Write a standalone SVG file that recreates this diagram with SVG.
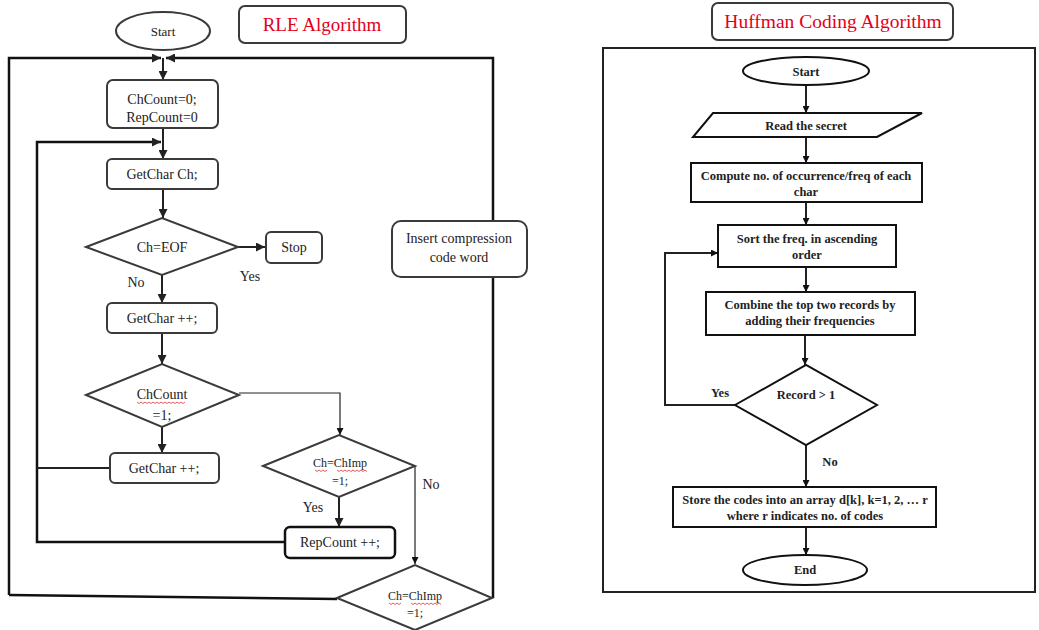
<svg xmlns="http://www.w3.org/2000/svg" width="1039" height="630" viewBox="0 0 1039 630">
  <defs>
    <marker id="arr" viewBox="0 0 10 10" refX="10" refY="5" markerWidth="9" markerHeight="9" markerUnits="userSpaceOnUse" orient="auto">
      <path d="M0,0 L10,5 L0,10 z" fill="#222"/>
    </marker>
    <marker id="arrS" viewBox="0 0 10 10" refX="10" refY="5" markerWidth="7" markerHeight="7" markerUnits="userSpaceOnUse" orient="auto">
      <path d="M0,0 L10,5 L0,10 z" fill="#111"/>
    </marker>
    <style>
      .rl { font-family: "Liberation Serif", "Times New Roman", "DejaVu Serif", serif; font-size: 14px; fill: #222; text-anchor: middle; }
      .rs { font-family: "Liberation Serif", "Times New Roman", "DejaVu Serif", serif; font-size: 12px; fill: #222; text-anchor: middle; }
      .hf { font-family: "Liberation Serif", "Times New Roman", "DejaVu Serif", serif; font-size: 12.5px; font-weight: bold; fill: #222; text-anchor: middle; }
      .title { font-family: "Liberation Serif", "Times New Roman", "DejaVu Serif", serif; font-size: 19px; fill: #e3001b; text-anchor: middle; }
      .box { fill: #fff; stroke: #3a3a3a; stroke-width: 2; }
      .hbox { fill: #fff; stroke: #111; stroke-width: 2; }
      .ln { fill: none; stroke: #222; stroke-width: 2; }
      .thin { fill: none; stroke: #222; stroke-width: 1.2; }
      .outer { fill: none; stroke: #111; stroke-width: 2.5; }
      .squig { fill: none; stroke: #e03030; stroke-width: 0.8; }
    </style>
  </defs>

  <!-- ===== RLE flowchart ===== -->
  <g id="connectors-rle">
    <path class="outer" d="M9,595 L9,58 L161,58" marker-end="url(#arr)"/>
    <path class="outer" d="M493,598 L493,58 L166,58" marker-end="url(#arr)"/>
    <path class="outer" d="M337,599 L9,595"/>
    <path class="ln" d="M163,58 L163,80" marker-end="url(#arr)"/>
    <path class="ln" d="M163,128 L163,159" marker-end="url(#arr)"/>
    <path class="outer" d="M285,542 L37,542 L37,142 L161,142" marker-end="url(#arr)"/>
    <path class="ln" d="M110,468 L37,468"/>
    <path class="ln" d="M163,189 L163,218" marker-end="url(#arr)"/>
    <path class="ln" d="M238,247 L265,247" marker-end="url(#arr)"/>
    <path class="ln" d="M162,275 L162,303" marker-end="url(#arr)"/>
    <path class="ln" d="M162,333 L162,364" marker-end="url(#arr)"/>
    <path class="ln" d="M162,427 L162,453" marker-end="url(#arr)"/>
    <path class="thin" d="M239,393 L340,393 L340,435" marker-end="url(#arrS)"/>
    <path class="ln" d="M339,497 L339,527" marker-end="url(#arr)"/>
    <path class="thin" d="M415,466 L415,564" marker-end="url(#arrS)"/>
  </g>

  <g id="rle-title">
    <rect class="box" x="239" y="6" width="167" height="37" rx="6"/>
    <text class="title" x="322" y="31">RLE Algorithm</text>
  </g>

  <g id="rle-start">
    <ellipse class="box" cx="163" cy="31" rx="47" ry="19"/>
    <text class="rs" x="163" y="36" style="font-size:13px">Start</text>
  </g>

  <g id="rle-init">
    <rect class="box" x="107" y="80" width="111" height="48" rx="6"/>
    <text class="rl" x="162" y="104">ChCount=0;</text>
    <text class="rl" x="162" y="122">RepCount=0</text>
  </g>

  <g id="rle-getchar">
    <rect class="box" x="107" y="159" width="111" height="30" rx="5"/>
    <text class="rl" x="162" y="179">GetChar Ch;</text>
  </g>

  <g id="rle-eof">
    <polygon class="box" points="86,247 162,218 238,247 162,275"/>
    <text class="rl" x="162" y="252">Ch=EOF</text>
    <text class="rl" x="136" y="287">No</text>
    <text class="rl" x="250" y="281">Yes</text>
  </g>

  <g id="rle-stop">
    <rect class="box" x="266" y="232" width="56" height="31" rx="5"/>
    <text class="rl" x="294" y="252">Stop</text>
  </g>

  <g id="rle-inc1">
    <rect class="box" x="107" y="303" width="110" height="30" rx="5"/>
    <text class="rl" x="162" y="323">GetChar ++;</text>
  </g>

  <g id="rle-chcount">
    <polygon class="box" points="86,395 162,364 239,395 162,427"/>
    <text class="rl" x="162" y="399">ChCount</text>
    <path class="squig" d="M137,402 l2,1.5 l2,-1.5 l2,1.5 l2,-1.5 l2,1.5 l2,-1.5 l2,1.5 l2,-1.5 l2,1.5 l2,-1.5 l2,1.5 l2,-1.5 l2,1.5 l2,-1.5 l2,1.5 l2,-1.5 l2,1.5 l2,-1.5 l2,1.5 l2,-1.5 l2,1.5 l2,-1.5 l2,1.5 l2,-1.5"/>
    <text class="rl" x="162" y="420">=1;</text>
  </g>

  <g id="rle-inc2">
    <rect class="box" x="110" y="453" width="109" height="30" rx="5"/>
    <text class="rl" x="164" y="473">GetChar ++;</text>
  </g>

  <g id="rle-chimp1">
    <polygon class="box" points="263,466 339,435 415,466 339,497"/>
    <text class="rs" x="340" y="467">Ch=ChImp</text>
    <path class="squig" d="M315,470 l2,1.5 l2,-1.5 l2,1.5 l2,-1.5 l2,1.5 l2,-1.5 M337,470 l2,1.5 l2,-1.5 l2,1.5 l2,-1.5 l2,1.5 l2,-1.5 l2,1.5 l2,-1.5 l2,1.5 l2,-1.5 l2,1.5 l2,-1.5 l2,1.5 l2,-1.5 l2,1.5"/>
    <text class="rs" x="340" y="485">=1;</text>
    <text class="rl" x="431" y="489">No</text>
    <text class="rl" x="313" y="512">Yes</text>
  </g>

  <g id="rle-repcount">
    <rect x="285" y="527" width="110" height="31" rx="5" fill="#fff" stroke="#111" stroke-width="2.5"/>
    <text class="rl" x="340" y="547">RepCount ++;</text>
  </g>

  <g id="rle-chimp2">
    <polygon class="box" points="337,598 415,565 492,598 415,630"/>
    <text class="rs" x="415" y="600">Ch=ChImp</text>
    <path class="squig" d="M389,603 l2,1.5 l2,-1.5 l2,1.5 l2,-1.5 l2,1.5 l2,-1.5 M411,603 l2,1.5 l2,-1.5 l2,1.5 l2,-1.5 l2,1.5 l2,-1.5 l2,1.5 l2,-1.5 l2,1.5 l2,-1.5 l2,1.5 l2,-1.5 l2,1.5 l2,-1.5 l2,1.5"/>
    <text class="rs" x="415" y="617">=1;</text>
  </g>

  <g id="rle-insert">
    <rect class="box" x="392" y="221" width="135" height="56" rx="9"/>
    <text class="rl" x="459" y="243">Insert compression</text>
    <text class="rl" x="459" y="262">code word</text>
  </g>

  <!-- ===== Huffman flowchart ===== -->
  <g id="huffman-title">
    <rect class="box" x="712" y="3" width="241" height="37" rx="6"/>
    <text class="title" x="833" y="28" style="font-size:19.5px">Huffman Coding Algorithm</text>
  </g>

  <g id="huffman-frame">
    <rect x="603" y="48" width="432" height="544" fill="none" stroke="#222" stroke-width="2"/>
  </g>

  <g id="connectors-huffman">
    <path class="ln" d="M806,85 L806,113" marker-end="url(#arrS)"/>
    <path class="ln" d="M806,137 L806,163" marker-end="url(#arrS)"/>
    <path class="ln" d="M806,202 L806,225" marker-end="url(#arrS)"/>
    <path class="ln" d="M806,267 L806,292" marker-end="url(#arrS)"/>
    <path class="ln" d="M805,335 L805,365" marker-end="url(#arrS)"/>
    <path class="ln" d="M735,405 L665,405 L665,253 L718,253" marker-end="url(#arrS)"/>
    <path class="ln" d="M806,445 L806,487" marker-end="url(#arrS)"/>
    <path class="ln" d="M806,527 L806,555" marker-end="url(#arrS)"/>
  </g>

  <g id="huffman-start">
    <ellipse class="hbox" cx="806" cy="71" rx="63" ry="14"/>
    <text class="hf" x="806" y="76">Start</text>
  </g>

  <g id="huffman-read">
    <polygon class="hbox" points="713,113 922,113 877,137 693,137"/>
    <text class="hf" x="806" y="130">Read the secret</text>
  </g>

  <g id="huffman-compute">
    <rect class="hbox" x="691" y="163" width="231" height="39"/>
    <text class="hf" x="806" y="180">Compute no. of occurrence/freq of each</text>
    <text class="hf" x="806" y="196">char</text>
  </g>

  <g id="huffman-sort">
    <rect class="hbox" x="718" y="225" width="178" height="42"/>
    <text class="hf" x="807" y="243">Sort the freq. in ascending</text>
    <text class="hf" x="807" y="259">order</text>
  </g>

  <g id="huffman-combine">
    <rect class="hbox" x="706" y="292" width="209" height="43"/>
    <text class="hf" x="810" y="309">Combine the top two records by</text>
    <text class="hf" x="810" y="325">adding their frequencies</text>
  </g>

  <g id="huffman-decision">
    <polygon class="hbox" points="735,405 806,365 877,405 806,445"/>
    <text class="hf" x="806" y="399">Record &gt; 1</text>
    <text class="hf" x="720" y="397">Yes</text>
    <text class="hf" x="830" y="466">No</text>
  </g>

  <g id="huffman-store">
    <rect class="hbox" x="673" y="487" width="263" height="40"/>
    <text class="hf" x="805" y="504">Store the codes into an array d[k], k=1, 2, … r</text>
    <text class="hf" x="805" y="520">where r indicates no. of codes</text>
  </g>

  <g id="huffman-end">
    <ellipse class="hbox" cx="805" cy="570" rx="62" ry="15"/>
    <text class="hf" x="805" y="574">End</text>
  </g>
</svg>
